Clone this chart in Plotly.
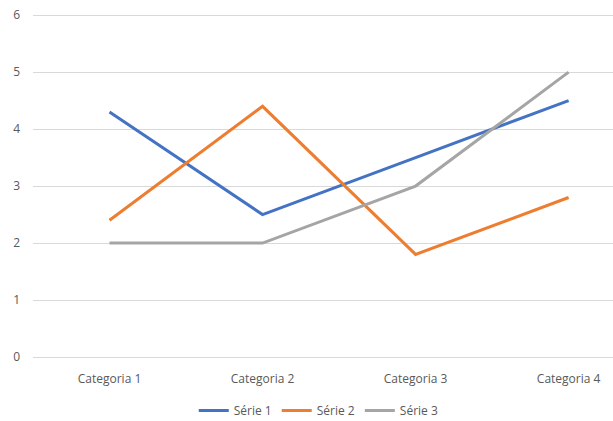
import plotly.graph_objects as go

categories = ["Categoria 1", "Categoria 2", "Categoria 3", "Categoria 4"]
serie1 = [4.3, 2.5, 3.5, 4.5]
serie2 = [2.4, 4.4, 1.8, 2.8]
serie3 = [2.0, 2.0, 3.0, 5.0]
series_names = ["Série 1", "Série 2", "Série 3"]
colors = ["#4472C4", "#ED7D31", "#A5A5A5"]

fig = go.Figure()
for name, vals, col in zip(series_names, [serie1, serie2, serie3], colors):
    fig.add_trace(go.Scatter(
        x=categories, y=vals, mode="lines", name=name,
        line=dict(color=col, width=3),
    ))

fig.update_layout(
    width=613, height=421,
    margin=dict(l=33, r=0, t=14, b=64, autoexpand=False),
    paper_bgcolor="white", plot_bgcolor="white",
    font=dict(family="Open Sans, Liberation Sans, sans-serif", size=12, color="#595959"),
    showlegend=True,
    legend=dict(orientation="h", x=0.52, xref="container", xanchor="center",
                y=0.025, yref="container", yanchor="middle",
                font=dict(size=12, color="#595959"), itemwidth=30, tracegroupgap=0),
    xaxis=dict(type="category", range=[-0.5, 3.29], showgrid=False, zeroline=False,
               showline=False, ticks="", ticklabelstandoff=13, automargin=False,
               tickfont=dict(size=12, color="#595959")),
    yaxis=dict(range=[0, 6.02], dtick=1, showgrid=True, gridcolor="#D9D9D9", gridwidth=1,
               zeroline=True, zerolinecolor="#D9D9D9", zerolinewidth=1,
               showline=False, ticks="", ticklabelstandoff=12,
               automargin=False, tickfont=dict(size=12, color="#595959")),
)

fig.write_html("out.html")
